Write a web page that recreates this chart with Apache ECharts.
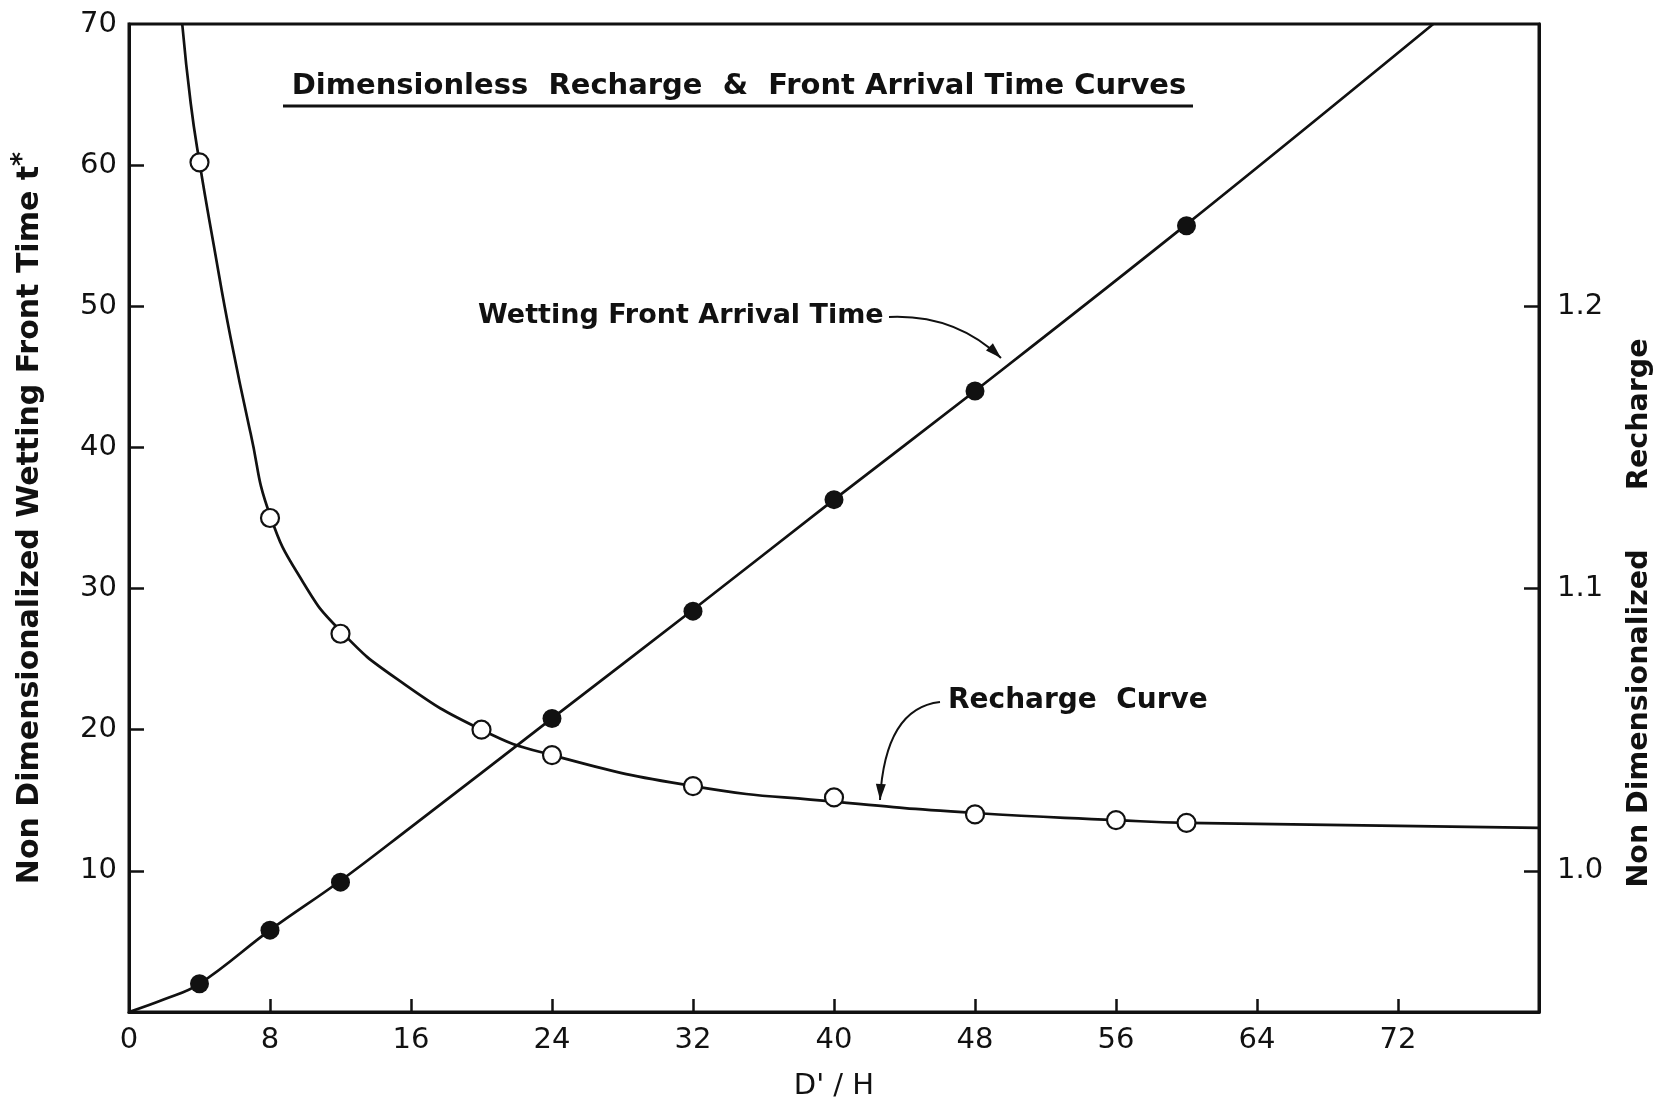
<!DOCTYPE html>
<html>
<head>
<meta charset="utf-8">
<script src="https://cdn.jsdelivr.net/npm/echarts@6/dist/echarts.min.js"></script>
<style>
  html, body { margin: 0; padding: 0; background: #fff; }
  #chart { width: 1665px; height: 1105px; }
</style>
</head>
<body>
<div id="chart"></div>
<script>
// measured points (D'/H)
const wettingX = [4, 8, 12, 24, 32, 40, 48, 60];
const wettingT = [2.0, 5.8, 9.2, 20.8, 28.4, 36.3, 44.0, 55.7];
const rechargeX = [4, 8, 12, 20, 24, 32, 40, 48, 56, 60];
const rechargeR = [1.251, 1.125, 1.084, 1.050, 1.041, 1.030, 1.026, 1.020, 1.018, 1.017];

// drawn curves
const wettingCurveX = [0, 2, 4, 8, 12, 16, 24, 32, 40, 48, 60, 74];
const wettingCurveT = [0, 0.9, 2.0, 5.8, 9.3, 13.1, 20.8, 28.5, 36.3, 44.0, 55.8, 70];
const rechargeCurveX = [3.02, 3.5, 4, 4.8, 5.76, 6.9, 8, 9.9, 12, 15.2, 20, 24, 32, 40, 48, 56, 60, 80];
const rechargeCurveR = [1.30, 1.272, 1.251, 1.222, 1.189, 1.155, 1.126, 1.102, 1.085, 1.068, 1.050, 1.041, 1.030, 1.0245, 1.0205, 1.018, 1.017, 1.0152];

// ticks / labels
const xTicks = [8, 16, 24, 32, 40, 48, 56, 64, 72];
const xLabels = [0, 8, 16, 24, 32, 40, 48, 56, 64, 72];
const tTicks = [10, 20, 30, 40, 50, 60];
const tLabels = [10, 20, 30, 40, 50, 60, 70];
const rTicks = [1.0, 1.1, 1.2];

const zip = (xs, ys) => xs.map((x, i) => [x, ys[i]]);

const FONT = "'DejaVu Sans', sans-serif";
const INK = "#111";

const chart = echarts.init(document.getElementById("chart"));

const option = {
  backgroundColor: "#fff",
  animation: false,
  grid: {
    left: 129, right: 126, top: 24, bottom: 93,
    outerBoundsMode: "none", containLabel: false,
    show: true, borderColor: INK, borderWidth: 3
  },
  xAxis: {
    type: "value", min: 0, max: 80,
    name: "D' / H", nameLocation: "middle", nameGap: 60,
    nameTextStyle: { fontFamily: FONT, fontSize: 29, color: INK },
    axisLine: { show: true, lineStyle: { color: INK, width: 3 } },
    axisTick: { show: true, inside: true, length: 13, customValues: xTicks, lineStyle: { color: INK, width: 2.5 } },
    axisLabel: { customValues: xLabels, margin: 14, fontFamily: FONT, fontSize: 29, color: INK },
    splitLine: { show: false }
  },
  yAxis: [
    {
      type: "value", min: 0, max: 70, position: "left",
      name: "Non Dimensionalized Wetting Front Time t{sup|*}",
      nameLocation: "middle", nameGap: 77, nameRotate: 90,
      nameTextStyle: {
        fontFamily: FONT, fontSize: 30, fontWeight: "bold", color: INK,
        rich: { sup: { fontFamily: FONT, fontSize: 27, fontWeight: "bold", verticalAlign: "top", padding: [0, 0, 16, 0] } }
      },
      axisLine: { show: true, lineStyle: { color: INK, width: 3 } },
      axisTick: { show: true, inside: true, length: 15, customValues: tTicks, lineStyle: { color: INK, width: 2.5 } },
      axisLabel: { customValues: tLabels, margin: 12, fontFamily: FONT, fontSize: 29, color: INK },
      splitLine: { show: false }
    },
    {
      type: "value", min: 0.95, max: 1.30, position: "right",
      name: "Non Dimensionalized      Recharge",
      nameLocation: "middle", nameGap: 86, nameRotate: 90,
      nameTextStyle: { fontFamily: FONT, fontSize: 28.5, fontWeight: "bold", color: INK, padding: [0, 190, 0, 0] },
      axisLine: { show: true, lineStyle: { color: INK, width: 3 } },
      axisTick: { show: true, inside: true, length: 15, customValues: rTicks, lineStyle: { color: INK, width: 2.5 } },
      axisLabel: { customValues: rTicks, margin: 18, fontFamily: FONT, fontSize: 29, color: INK, formatter: v => v.toFixed(1) },
      splitLine: { show: false }
    }
  ],
  series: [
    {
      name: "Wetting Front Arrival Time (curve)", type: "line", yAxisIndex: 0,
      data: zip(wettingCurveX, wettingCurveT), smooth: 0.4,
      showSymbol: false, lineStyle: { color: INK, width: 2.7 }, z: 2
    },
    {
      name: "Recharge Curve (curve)", type: "line", yAxisIndex: 1,
      data: zip(rechargeCurveX, rechargeCurveR), smooth: 0.5,
      showSymbol: false, lineStyle: { color: INK, width: 2.7 }, z: 2
    },
    {
      name: "Wetting Front Arrival Time", type: "scatter", yAxisIndex: 0,
      data: zip(wettingX, wettingT), symbol: "circle", symbolSize: 19,
      itemStyle: { color: INK, opacity: 1 }, z: 3
    },
    {
      name: "Recharge", type: "scatter", yAxisIndex: 1,
      data: zip(rechargeX, rechargeR), symbol: "circle", symbolSize: 18,
      itemStyle: { color: "#fff", borderColor: INK, borderWidth: 2.2, opacity: 1 }, z: 3
    }
  ]
};

chart.setOption(option);

// annotation arrows
function arrowHead(tip, from, len, half) {
  const dx = tip[0] - from[0], dy = tip[1] - from[1];
  const d = Math.hypot(dx, dy);
  const ux = dx / d, uy = dy / d;
  const bx = tip[0] - ux * len, by = tip[1] - uy * len;
  return [tip, [bx - uy * half, by + ux * half], [bx + uy * half, by - ux * half]];
}

const arrow1 = { x1: 889, y1: 317, cpx1: 955, cpy1: 314, x2: 1001, y2: 358 };
const arrow2 = { x1: 940, y1: 702, cpx1: 885, cpy1: 708, x2: 880, y2: 800 };

chart.setOption({
  graphic: [
    {
      type: "text", x: 739, y: 86,
      style: {
        text: "Dimensionless  Recharge  &  Front Arrival Time Curves",
        font: "bold 29px " + FONT, fill: INK, align: "center", verticalAlign: "middle"
      }
    },
    { type: "line", shape: { x1: 283, y1: 106, x2: 1193, y2: 106 }, style: { stroke: INK, lineWidth: 3 } },
    {
      type: "text", x: 478, y: 316,
      style: { text: "Wetting Front Arrival Time", font: "bold 27px " + FONT, fill: INK, align: "left", verticalAlign: "middle" }
    },
    {
      type: "text", x: 948, y: 701,
      style: { text: "Recharge  Curve", font: "bold 28px " + FONT, fill: INK, align: "left", verticalAlign: "middle" }
    },
    { type: "bezierCurve", shape: arrow1, style: { stroke: INK, lineWidth: 2, fill: null } },
    { type: "polygon", shape: { points: arrowHead([arrow1.x2, arrow1.y2], [arrow1.cpx1, arrow1.cpy1], 16, 5) }, style: { fill: INK } },
    { type: "bezierCurve", shape: arrow2, style: { stroke: INK, lineWidth: 2, fill: null } },
    { type: "polygon", shape: { points: arrowHead([arrow2.x2, arrow2.y2], [arrow2.cpx1, arrow2.cpy1], 16, 5) }, style: { fill: INK } }
  ]
});
</script>
</body>
</html>
